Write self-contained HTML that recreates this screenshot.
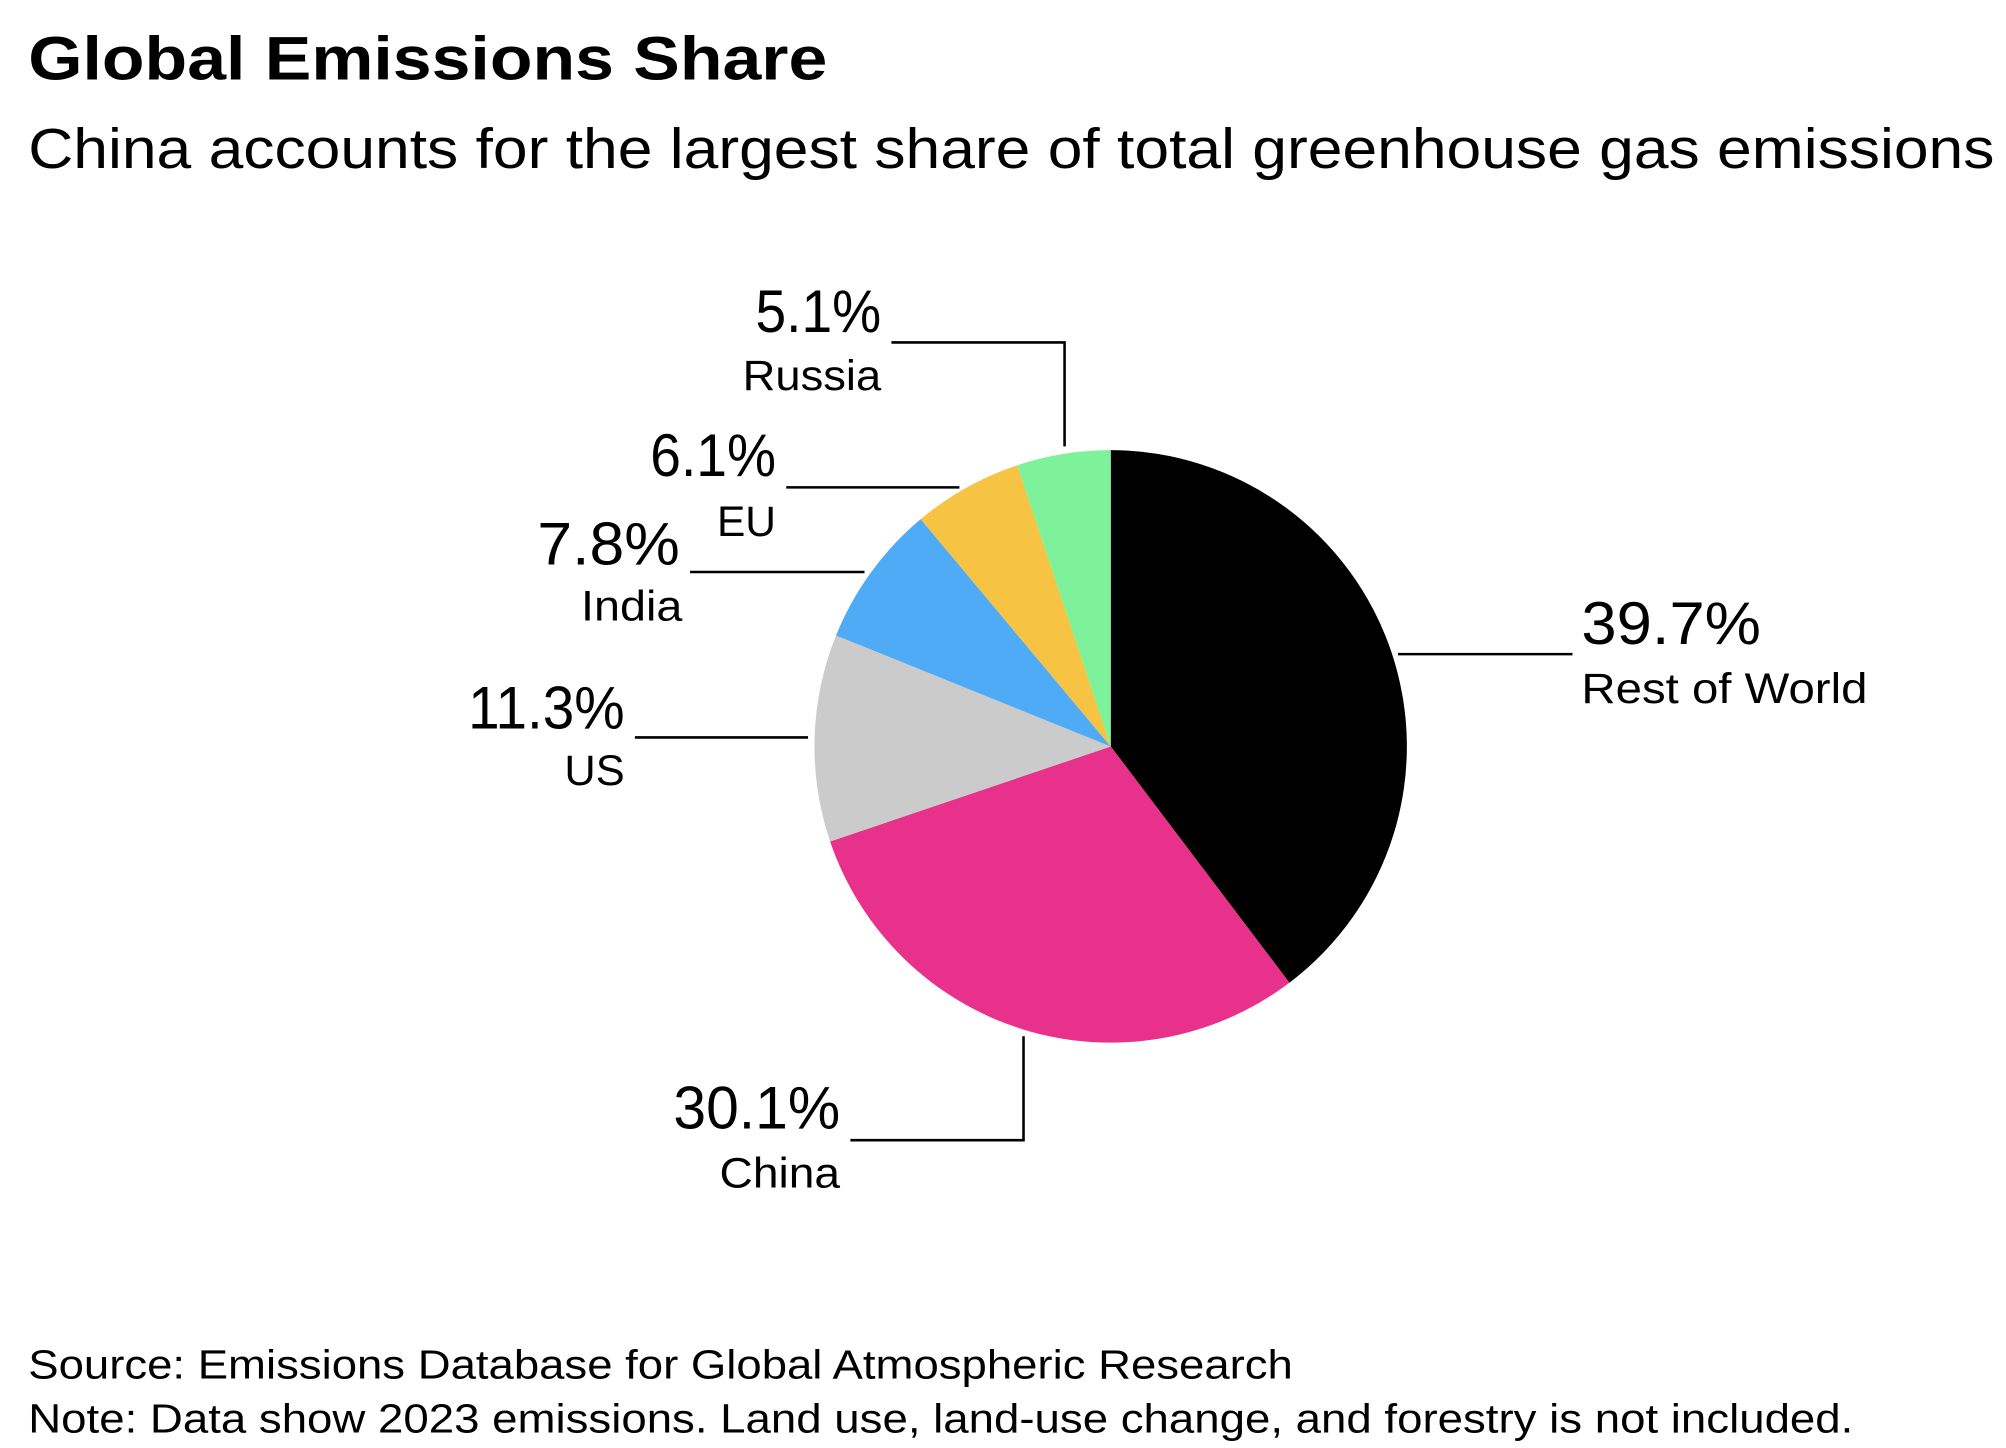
<!DOCTYPE html>
<html><head><meta charset="utf-8"><style>
html,body{margin:0;padding:0;background:#fff}
svg{display:block}
text{font-family:"Liberation Sans",sans-serif;fill:#000}
</style></head><body>
<svg width="2006" height="1448" viewBox="0 0 1564 1129" xmlns="http://www.w3.org/2000/svg">
<rect width="1564" height="1129" fill="#fff"/>
<text x="22" y="62" font-size="48" font-weight="bold" textLength="623" lengthAdjust="spacingAndGlyphs">Global Emissions Share</text>
<text x="22" y="131" font-size="44" textLength="1533" lengthAdjust="spacingAndGlyphs">China accounts for the largest share of total greenhouse gas emissions</text>

<g stroke="none">
<path d="M866,582 L866,351 A231,231 0 0 1 1005.3,766.2 Z" fill="#000"/>
<path d="M866,582 L1005.3,766.2 A231,231 0 0 1 647.2,656.1 Z" fill="#E8318A"/>
<path d="M866,582 L647.2,656.1 A231,231 0 0 1 651.8,495.5 Z" fill="#CBCBCB"/>
<path d="M866,582 L651.8,495.5 A231,231 0 0 1 717.8,404.8 Z" fill="#4FABF6"/>
<path d="M866,582 L717.8,404.8 A231,231 0 0 1 793.1,362.8 Z" fill="#F6C343"/>
<path d="M866,582 L793.1,362.8 A231,231 0 0 1 866,351 Z" fill="#7EF29A"/>
</g>

<g fill="none" stroke="#000" stroke-width="2">
<polyline points="695,267 830,267 830,348"/>
<line x1="613" y1="380" x2="748" y2="380"/>
<line x1="538" y1="446" x2="674" y2="446"/>
<line x1="495" y1="575" x2="630" y2="575"/>
<line x1="1090" y1="510" x2="1226" y2="510"/>
<polyline points="798,808 798,889 663,889"/>
</g>

<g text-anchor="end">
<text x="687" y="259" font-size="47" textLength="98" lengthAdjust="spacingAndGlyphs">5.1%</text>
<text x="687" y="304" font-size="33" textLength="108" lengthAdjust="spacingAndGlyphs">Russia</text>
<text x="605" y="371" font-size="47" textLength="98" lengthAdjust="spacingAndGlyphs">6.1%</text>
<text x="605" y="418" font-size="33" textLength="46" lengthAdjust="spacingAndGlyphs">EU</text>
<text x="530" y="440" font-size="47" textLength="111" lengthAdjust="spacingAndGlyphs">7.8%</text>
<text x="532" y="484" font-size="33" textLength="79" lengthAdjust="spacingAndGlyphs">India</text>
<text x="487" y="568" font-size="47" textLength="122" lengthAdjust="spacingAndGlyphs">11.3%</text>
<text x="487" y="612" font-size="33" textLength="47" lengthAdjust="spacingAndGlyphs">US</text>
<text x="655" y="880" font-size="47" textLength="130" lengthAdjust="spacingAndGlyphs">30.1%</text>
<text x="655" y="926" font-size="33" textLength="94" lengthAdjust="spacingAndGlyphs">China</text>
</g>
<text x="1233" y="502" font-size="47" textLength="140" lengthAdjust="spacingAndGlyphs">39.7%</text>
<text x="1233" y="548" font-size="33" textLength="223" lengthAdjust="spacingAndGlyphs">Rest of World</text>

<text x="22" y="1075" font-size="32" textLength="986" lengthAdjust="spacingAndGlyphs">Source: Emissions Database for Global Atmospheric Research</text>
<text x="22" y="1117" font-size="32" textLength="1423" lengthAdjust="spacingAndGlyphs">Note: Data show 2023 emissions. Land use, land-use change, and forestry is not included.</text>
</svg>
</body></html>
